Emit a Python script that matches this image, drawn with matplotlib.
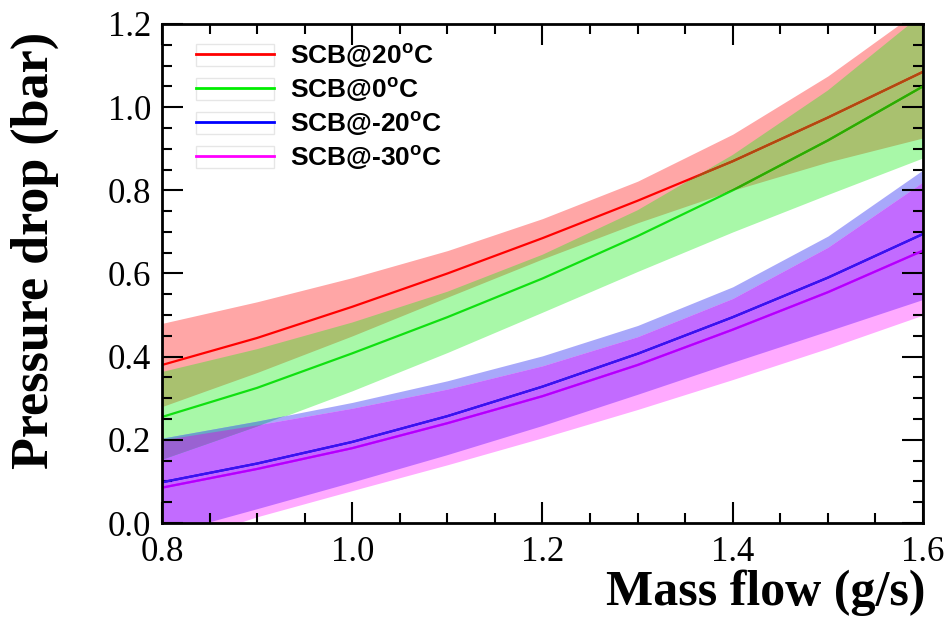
import numpy as np
import matplotlib.pyplot as plt
from matplotlib.lines import Line2D
from matplotlib.patches import Patch
from matplotlib.legend_handler import HandlerTuple
from matplotlib.ticker import MultipleLocator, FormatStrFormatter
from matplotlib.transforms import Bbox

plt.rcParams['font.family'] = 'Liberation Serif'

# ---- data ----
mass_flow = [0.8, 0.9, 1.0, 1.1, 1.2, 1.3, 1.4, 1.5, 1.6]

scb20 = [0.38, 0.445, 0.52, 0.60, 0.685, 0.775, 0.87, 0.975, 1.085]
scb20_lo = [0.28, 0.362, 0.45, 0.543, 0.635, 0.722, 0.80, 0.868, 0.926]
scb20_hi = [0.48, 0.532, 0.59, 0.655, 0.732, 0.822, 0.935, 1.075, 1.24]

scb0 = [0.255, 0.325, 0.408, 0.495, 0.588, 0.69, 0.80, 0.92, 1.05]
scb0_lo = [0.152, 0.232, 0.318, 0.41, 0.507, 0.605, 0.70, 0.79, 0.878]
scb0_hi = [0.363, 0.418, 0.482, 0.556, 0.645, 0.752, 0.885, 1.04, 1.225]

scbm20 = [0.098, 0.143, 0.195, 0.257, 0.328, 0.407, 0.495, 0.59, 0.695]
scbm20_lo = [-0.03, 0.033, 0.097, 0.163, 0.233, 0.308, 0.385, 0.46, 0.536]
scbm20_hi = [0.204, 0.245, 0.29, 0.342, 0.402, 0.475, 0.568, 0.69, 0.849]

scbm30 = [0.085, 0.13, 0.18, 0.24, 0.305, 0.38, 0.465, 0.555, 0.655]
scbm30_lo = [-0.06, 0.015, 0.078, 0.14, 0.205, 0.273, 0.345, 0.42, 0.50]
scbm30_hi = [0.200, 0.236, 0.276, 0.322, 0.378, 0.448, 0.54, 0.663, 0.82]

labels = [r'SCB@20$^\mathregular{o}$C', r'SCB@0$^\mathregular{o}$C',
          r'SCB@-20$^\mathregular{o}$C', r'SCB@-30$^\mathregular{o}$C']

X_LIM = (0.8, 1.6)
Y_LIM = (0, 1.2)
data_box = Bbox.from_extents(X_LIM[0], Y_LIM[0], X_LIM[1], Y_LIM[1])

fig = plt.figure(figsize=(9.49, 6.23), dpi=100)
ax = fig.add_axes([0.1707, 0.1605, 0.8019, 0.801])


def band_path(b):
    # outline of a band, cut to the visible data range
    return b.get_paths()[0].clip_to_bbox(data_box, inside=True)


def band(lo, hi, color, clip=None, z=1):
    p = ax.fill_between(mass_flow, lo, hi, color=color, lw=0, zorder=z)
    if clip is not None:
        p.set_clip_path(band_path(clip), ax.transData)
    else:
        p.set_clip_path(ax.patch)
    return p


def curve(y, color, clip=None, z=3):
    l, = ax.plot(mass_flow, y, color=color, lw=1.6, zorder=z)
    if clip is not None:
        l.set_clip_path(band_path(clip), ax.transData)
    return l


# bands (overlaps drawn as darker "multiplied" colours)
b20 = band(scb20_lo, scb20_hi, '#ffa6a6')
b0 = band(scb0_lo, scb0_hi, '#a8f8a8')
band(scb20_lo, scb20_hi, '#a9c16f', clip=b0, z=1.1)
bm20 = band(scbm20_lo, scbm20_hi, '#a8a8fa', z=1.2)
bm30 = band(scbm30_lo, scbm30_hi, '#ffaaff', z=1.2)
band(scbm30_lo, scbm30_hi, '#c26bff', clip=bm20, z=1.3)
band(scbm20_lo, scbm20_hi, '#6aa6c6', clip=b0, z=1.4)
band(scbm30_lo, scbm30_hi, '#9a62d2', clip=b0, z=1.5)

# lines
curve(scb20, '#ff0000')
curve(scb20, '#b04a10', clip=b0, z=3.1)
curve(scb0, '#10e010')
curve(scb0, '#30a800', clip=b20, z=3.1)
curve(scbm20, '#0000ff')
curve(scbm20, '#3c12ee', clip=bm30, z=3.1)
curve(scbm30, '#ff00ff')
curve(scbm30, '#b000ff', clip=bm20, z=3.1)

ax.set_xlim(*X_LIM)
ax.set_ylim(*Y_LIM)
ax.xaxis.set_major_locator(MultipleLocator(0.2))
ax.xaxis.set_minor_locator(MultipleLocator(0.05))
ax.yaxis.set_major_locator(MultipleLocator(0.2))
ax.yaxis.set_minor_locator(MultipleLocator(0.05))
ax.xaxis.set_major_formatter(FormatStrFormatter('%.1f'))
ax.yaxis.set_major_formatter(FormatStrFormatter('%.1f'))
ax.tick_params(which='both', direction='in', top=True, right=True, width=1.5)
ax.tick_params(which='major', length=15, labelsize=25)
ax.tick_params(which='minor', length=7.5)
ax.tick_params(axis='x', pad=9)
ax.tick_params(axis='y', pad=8)
for s in ax.spines.values():
    s.set_linewidth(2)
    s.set_zorder(5)

xl = ax.set_xlabel('Mass flow (g/s)', fontsize=36, fontweight='bold')
ax.xaxis.set_label_coords(1.003, -0.14)
xl.set_ha('right')
xl.set_va('center')
yl = ax.set_ylabel('Pressure drop (bar)', fontsize=37.5, fontweight='bold')
ax.yaxis.set_label_coords(-0.167, 0.547)
yl.set_va('center')

# legend: line inside a faint box, like the original
colors = ['#ff0000', '#00ee00', '#0000ff', '#ff00ff']
handles = [(Patch(facecolor='white', edgecolor='#e6e6e6', lw=1),
            Line2D([], [], color=c, lw=2)) for c in colors]
ax.legend(handles, labels, loc='upper left', bbox_to_anchor=(0.045, 0.965),
          frameon=False, handler_map={tuple: HandlerTuple(ndivide=1)},
          prop={'family': 'Liberation Sans', 'weight': 'bold', 'size': 19},
          handlelength=2.95, handleheight=0.9, handletextpad=0.6,
          labelspacing=0.2, borderpad=0, borderaxespad=0)

fig.savefig('out.png', dpi=100)
